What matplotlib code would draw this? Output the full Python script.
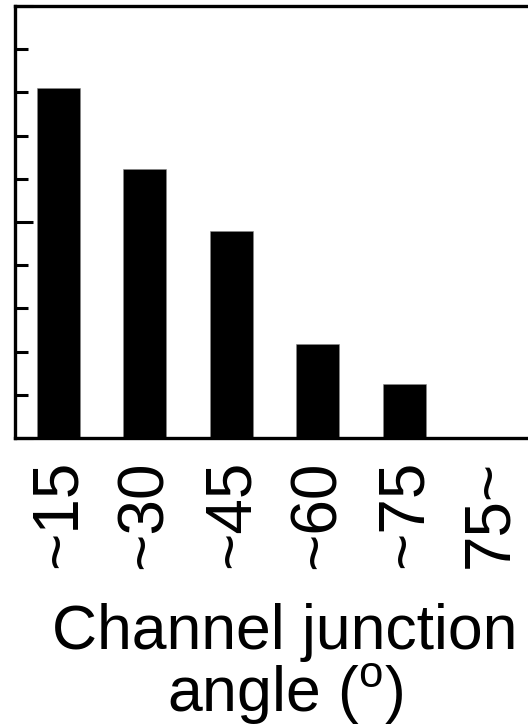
import matplotlib
matplotlib.use('Agg')
import matplotlib.pyplot as plt
from matplotlib.ticker import MultipleLocator

plt.rcParams['font.family'] = ['Liberation Sans', 'DejaVu Sans']
plt.rcParams['mathtext.fontset'] = 'custom'
plt.rcParams['mathtext.rm'] = 'Liberation Sans'

# angle classes and bar heights
categories = ['~15', '~30', '~45', '~60', '~75', '75~']
values = [8.1, 6.23, 4.79, 2.18, 1.25, 0.0]

W, H = 528, 727
fig = plt.figure(figsize=(W / 100, H / 100), dpi=100)
# the right spine is cropped off in the original, so the axes run past the figure edge
ax = fig.add_axes([15 / W, (H - 438) / H, (534 - 15) / W, 432 / H])

x = list(range(len(categories)))
ax.bar(x, values, width=0.5, color='black', edgecolor='#888888', linewidth=0.4)

ax.set_xlim(-0.5, 5.5)
ax.set_ylim(0, 10)
ax.yaxis.set_major_locator(MultipleLocator(5))
ax.yaxis.set_minor_locator(MultipleLocator(1))
ax.tick_params(axis='y', which='major', direction='in', length=13, width=2.2, labelleft=False)
ax.tick_params(axis='y', which='minor', direction='in', length=9.5, width=2.2)
ax.set_xticks(x)
ax.set_xticklabels(categories, rotation=90, fontsize=46)
ax.tick_params(axis='x', length=0, pad=16)

for s in ax.spines.values():
    s.set_linewidth(2.4)

fig.text(285 / W, (H - 712) / H, 'Channel junction\nangle ($\\mathregular{^o}$)',
         ha='center', va='baseline', fontsize=45, linespacing=1.02)

plt.savefig('out.png', dpi=100)
